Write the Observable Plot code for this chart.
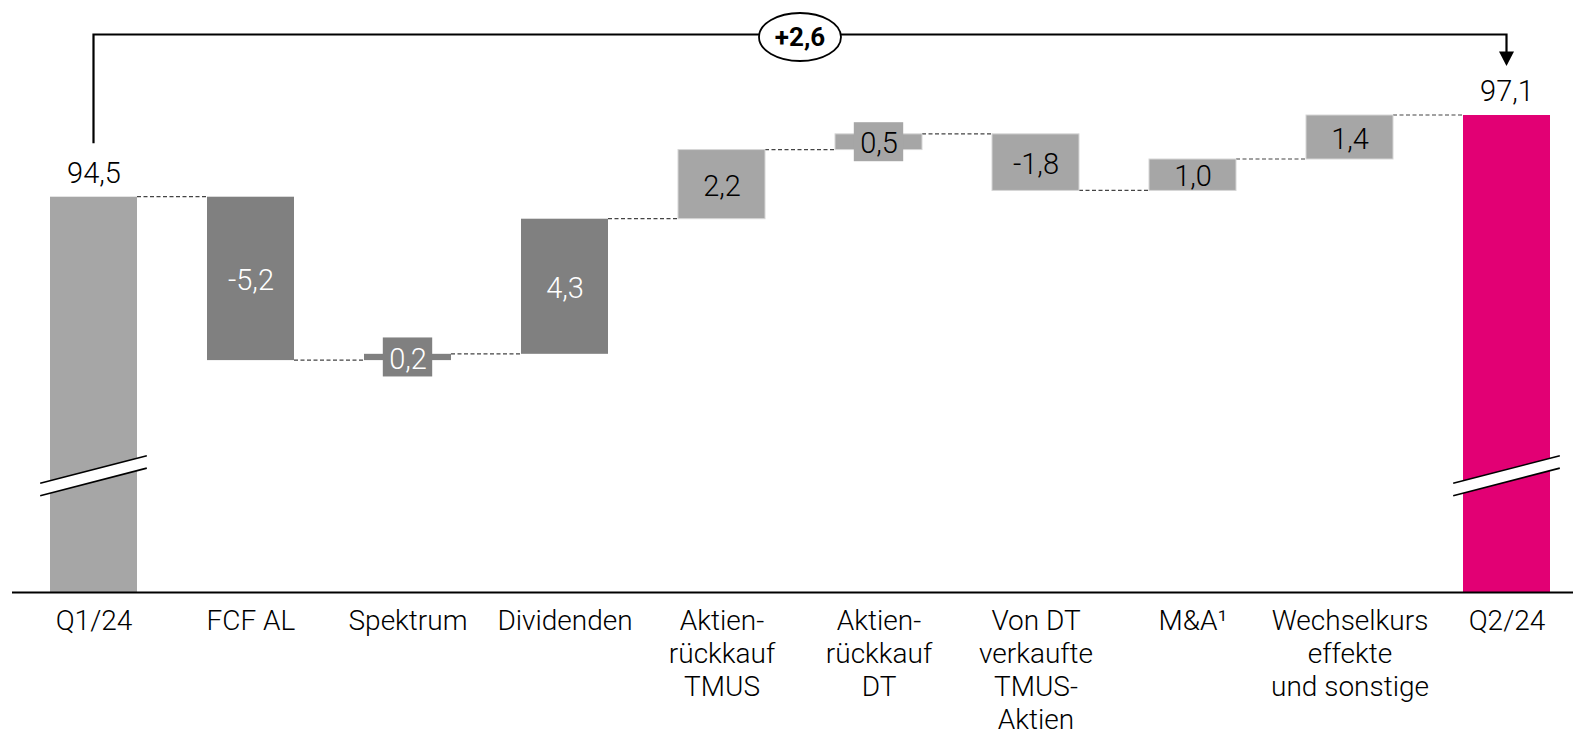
<!DOCTYPE html>
<html>
<head>
<meta charset="utf-8">
<script src="https://cdn.jsdelivr.net/npm/d3@7"></script>
<script src="https://cdn.jsdelivr.net/npm/@observablehq/plot@0.6"></script>
<style>
  html, body { margin: 0; padding: 0; background: #fff; }
  #chart svg { display: block; }
</style>
</head>
<body>
<div id="chart"></div>
<script>
// ---- data ----
const categories = ["Q1/24", "FCF AL", "Spektrum", "Dividenden", "Aktienrückkauf TMUS",
  "Aktienrückkauf DT", "Von DT verkaufte TMUS-Aktien", "M&A", "Wechselkurseffekte und sonstige", "Q2/24"];
const axisLabels = ["Q1/24", "FCF AL", "Spektrum", "Dividenden", "Aktien-\nrückkauf\nTMUS",
  "Aktien-\nrückkauf\nDT", "Von DT\nverkaufte\nTMUS-\nAktien", "M&A¹", "Wechselkurs\neffekte\nund sonstige", "Q2/24"];
const values = [94.5, -5.2, 0.2, 4.3, 2.2, 0.5, -1.8, 1.0, 1.4, 97.1];
const kinds = ["total", "delta", "delta", "delta", "delta", "delta", "delta", "delta", "delta", "total"];
const barGroup = ["Stand", "Operativ", "Operativ", "Operativ", "Sonstige", "Sonstige", "Sonstige", "Sonstige", "Sonstige", "Stand neu"];
const groupNames = ["Stand", "Operativ", "Sonstige", "Stand neu"];
const groupFills = ["#a6a6a6", "#808080", "#a6a6a6", "#e20074"];

// scale configuration (broken value axis)
const yBase = 81.92;   // value at the (broken) baseline
const yTop = 100.76;   // value at the top edge
const breakValue = 85.62;

const fmt = v => v.toFixed(1).replace(".", ",");

// ---- build waterfall rows ----
let running = 0;
const rows = categories.map((c, i) => {
  let y1, y2;
  if (kinds[i] === "total") { y1 = yBase; y2 = values[i]; running = values[i]; }
  else { y1 = running; y2 = +(running + values[i]).toFixed(2); running = y2; }
  return { cat: c, y1, y2, end: y2, mid: (y1 + y2) / 2, value: values[i], kind: kinds[i], group: barGroup[i], label: fmt(values[i]) };
});
const n = rows.length;
const smallRows = rows.filter(d => d.kind === "delta" && Math.abs(d.value) < 0.6);
const deltaDark = rows.filter(d => d.kind === "delta" && d.group === "Operativ");
const deltaLight = rows.filter(d => d.kind === "delta" && d.group !== "Operativ");
const totals = rows.filter(d => d.kind === "total");
const diffLabel = "+" + fmt(values[n - 1] - values[0]);

// ---- custom render marks using Plot's scales ----
function connectorMark(index, { x, y }) {
  const g = d3.create("svg:g")
    .attr("stroke", "#444").attr("stroke-width", 1.2).attr("stroke-dasharray", "4,2.5").attr("fill", "none");
  const bw = x.bandwidth();
  for (let i = 0; i < n - 1; i++) {
    const yy = y(rows[i].end);
    g.append("line")
      .attr("x1", x(rows[i].cat) + bw).attr("x2", x(rows[i + 1].cat))
      .attr("y1", yy).attr("y2", yy);
  }
  return g.node();
}

function breakMark(index, { x, y }) {
  const g = d3.create("svg:g");
  const bw = x.bandwidth();
  const L = 53.3, rise = 13.8, gap = 6.2;
  for (const d of totals) {
    const cx = x(d.cat) + bw / 2, cy = y(breakValue);
    const tl = [cx - L, cy - gap + rise], tr = [cx + L, cy - gap - rise];
    const bl = [cx - L, cy + gap + rise], br = [cx + L, cy + gap - rise];
    g.append("polygon").attr("points", [tl, tr, br, bl].map(p => p.join(",")).join(" ")).attr("fill", "white");
    g.append("line").attr("x1", tl[0]).attr("y1", tl[1]).attr("x2", tr[0]).attr("y2", tr[1]).attr("stroke", "#000").attr("stroke-width", 1.6);
    g.append("line").attr("x1", bl[0]).attr("y1", bl[1]).attr("x2", br[0]).attr("y2", br[1]).attr("stroke", "#000").attr("stroke-width", 1.6);
  }
  return g.node();
}

function bracketMark(index, { x, y }) {
  const g = d3.create("svg:g");
  const bw = x.bandwidth();
  const x1 = x(categories[0]) + bw / 2, x2 = x(categories[n - 1]) + bw / 2;
  const yStart = y(values[0]) - 53.4, yLine = y(values[n - 1]) - 80.5, yTip = y(values[n - 1]) - 49;
  g.append("path")
    .attr("d", `M${x1},${yStart}V${yLine}H${x2}V${yTip - 12}`)
    .attr("fill", "none").attr("stroke", "#000").attr("stroke-width", 2.2);
  g.append("polygon")
    .attr("points", `${x2 - 7.5},${yTip - 14.5} ${x2 + 7.5},${yTip - 14.5} ${x2},${yTip}`)
    .attr("fill", "#000");
  const cx = (x1 + x2) / 2, cy = yLine + 2.5;
  g.append("ellipse").attr("cx", cx).attr("cy", cy).attr("rx", 41).attr("ry", 24)
    .attr("fill", "white").attr("stroke", "#000").attr("stroke-width", 1.8);
  g.append("text").attr("x", cx).attr("y", cy).attr("dy", "0.35em")
    .attr("text-anchor", "middle").attr("font-size", 26).attr("font-weight", "bold").attr("fill", "#000")
    .text(diffLabel);
  return g.node();
}

const chart = Plot.plot({
  width: 1573,
  height: 737,
  marginTop: 0,
  marginBottom: 145,
  marginLeft: 12,
  marginRight: 0,
  style: { fontFamily: "Roboto, 'Noto Sans', sans-serif", background: "white", color: "#000" },
  x: { domain: categories, range: [12, 1588], paddingInner: 0.4435, paddingOuter: 0.222, label: null },
  y: { domain: [yBase, yTop], axis: null },
  color: { domain: groupNames, range: groupFills },
  marks: [
    connectorMark,
    Plot.barY(rows, { x: "cat", y1: "y1", y2: "y2", fill: "group",
      stroke: d => d.group === "Sonstige" ? "#d6d6d6" : "none", strokeWidth: 1 }),
    Plot.barY(smallRows, { x: "cat", y1: "mid", y2: "mid", fill: "group",
      insetLeft: 18.8, insetRight: 18.8, insetTop: -19.5, insetBottom: -19.5 }),
    breakMark,
    Plot.ruleY([yBase], { stroke: "#000", strokeWidth: 2 }),
    Plot.text(totals, { x: "cat", y: "y2", text: "label", dy: -23.5, fontSize: 29, fontWeight: 300, fill: "#000" }),
    Plot.text(deltaDark, { x: "cat", y: "mid", text: "label", dy: 2, fontSize: 29, fontWeight: 300, fill: "#fff" }),
    Plot.text(deltaLight, { x: "cat", y: "mid", text: "label", dy: 2, fontSize: 29, fontWeight: 300, fill: "#000" }),
    bracketMark,
    Plot.axisX({ tickSize: 0, tickPadding: 14, fontSize: 28, fontWeight: 300, lineHeight: 1.18, label: null,
      tickFormat: d => axisLabels[categories.indexOf(d)] })
  ]
});
document.getElementById("chart").appendChild(chart);
</script>
</body>
</html>
